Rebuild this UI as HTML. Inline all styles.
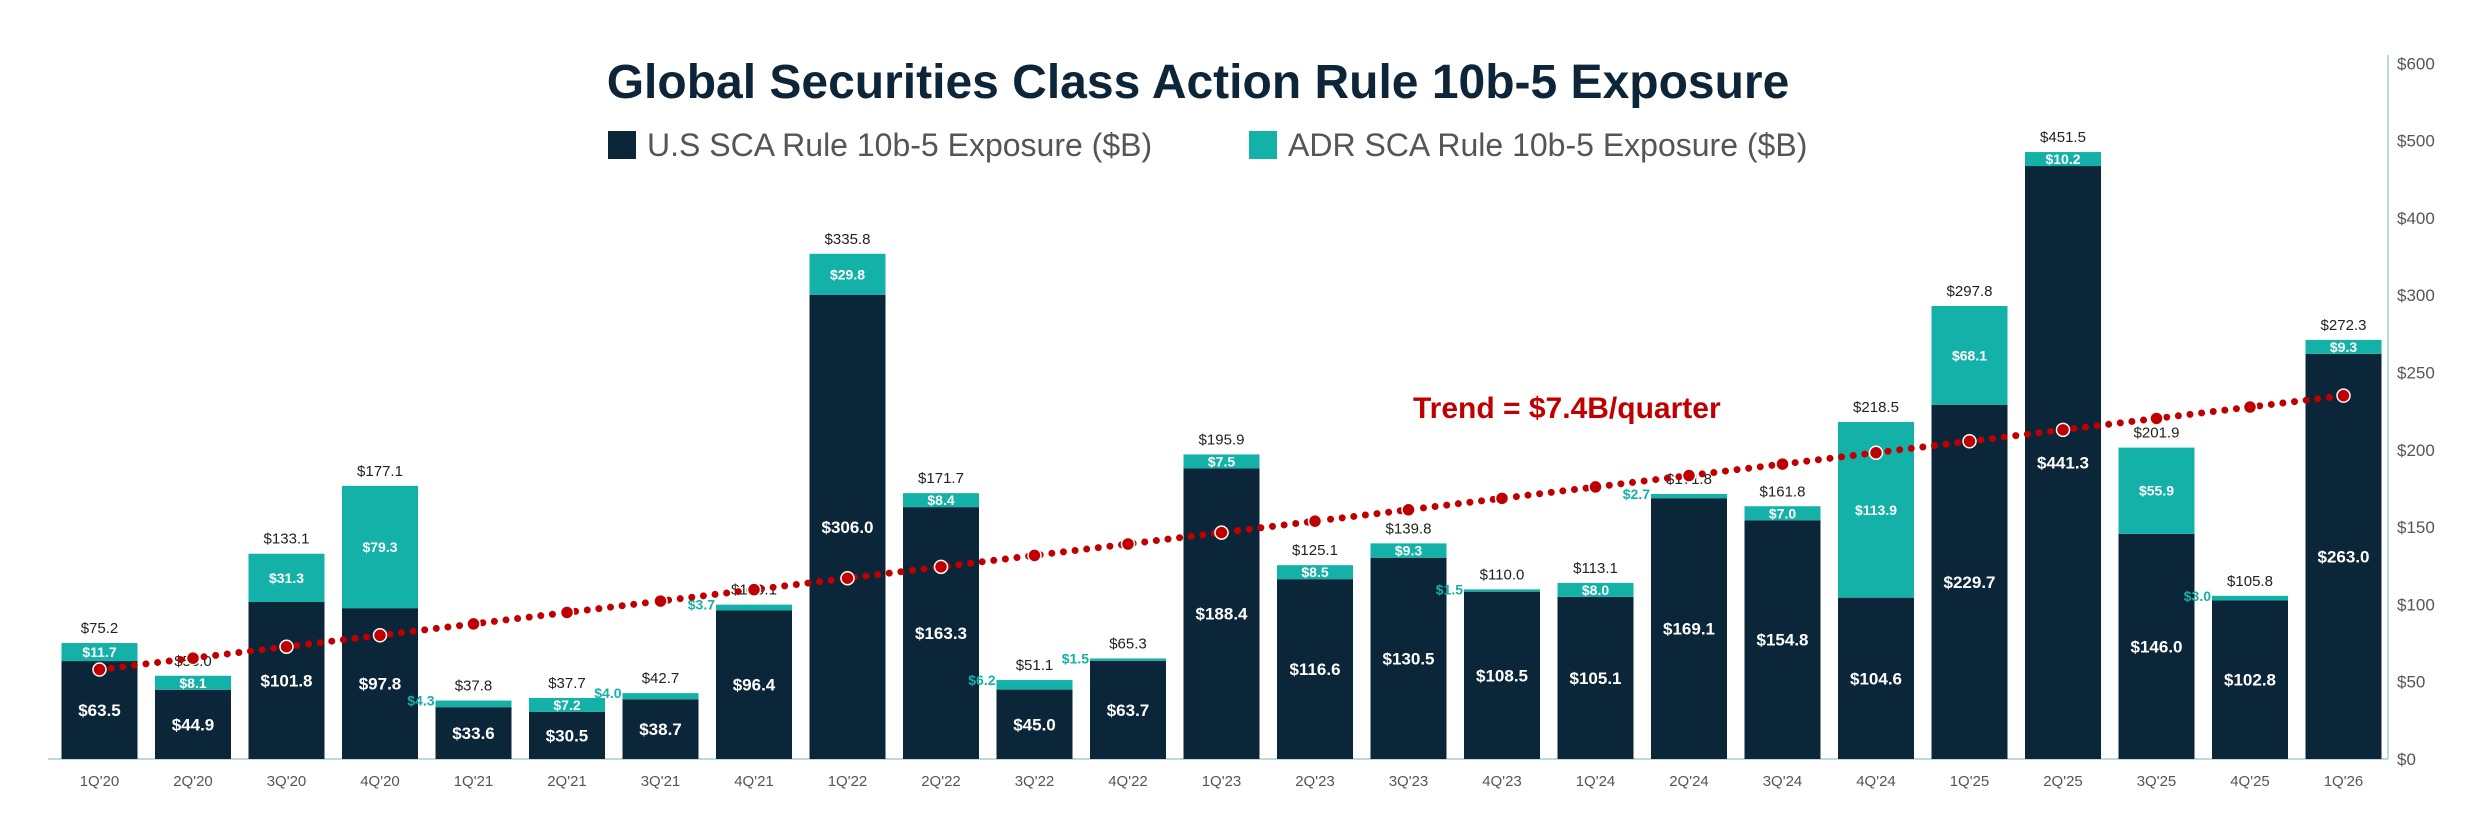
<!DOCTYPE html>
<html><head><meta charset="utf-8"><style>
body{margin:0;background:#fff;}
svg{display:block;font-family:"Liberation Sans",sans-serif;}
</style></head>
<body>
<svg id="chart" width="2475" height="822" viewBox="0 0 2475 822">
<text x="1198" y="98" text-anchor="middle" font-size="48" font-weight="bold" fill="#0d2538">Global Securities Class Action Rule 10b-5 Exposure</text>
<g>
<rect x="608" y="131" width="28" height="28" fill="#0b2539"/>
<text x="647" y="156" font-size="32" fill="#555">U.S SCA Rule 10b-5 Exposure ($B)</text>
<rect x="1249" y="131" width="28" height="28" fill="#14b1a9"/>
<text x="1288" y="156" font-size="32" fill="#555">ADR SCA Rule 10b-5 Exposure ($B)</text>
</g>
<g id="plot"></g>
<text x="1413" y="418" font-size="30" font-weight="bold" fill="#c00000">Trend = $7.4B/quarter</text>
</svg>
<script>
const quarters=["1Q'20","2Q'20","3Q'20","4Q'20","1Q'21","2Q'21","3Q'21","4Q'21","1Q'22","2Q'22","3Q'22","4Q'22","1Q'23","2Q'23","3Q'23","4Q'23","1Q'24","2Q'24","3Q'24","4Q'24","1Q'25","2Q'25","3Q'25","4Q'25","1Q'26"];
const usValues=[63.5,44.9,101.8,97.8,33.6,30.5,38.7,96.4,306.0,163.3,45.0,63.7,188.4,116.6,130.5,108.5,105.1,169.1,154.8,104.6,229.7,441.3,146.0,102.8,263.0];
const adrValues=[11.7,8.1,31.3,79.3,4.3,7.2,4.0,3.7,29.8,8.4,6.2,1.5,7.5,8.5,9.3,1.5,8.0,2.7,7.0,113.9,68.1,10.2,55.9,3.0,9.3];
const totals=["75.2","53.0","133.1","177.1","37.8","37.7","42.7","100.1","335.8","171.7","51.1","65.3","195.9","125.1","139.8","110.0","113.1","171.8","161.8","218.5","297.8","451.5","201.9","105.8","272.3"];
const tickValues=[0,50,100,150,200,250,300,400,500,600];
const trendStart=58;
const trendSlope=7.4;

const NS="http://www.w3.org/2000/svg";
const plot=document.getElementById('plot');
const base=759, step=77.3, x0=99.5, dx=93.5, bw=76;
const brkV=[0,260,340,450,600], brkP=[0,401,511,600,696];
function y(v){
  for(let i=0;i<brkV.length-1;i++){
    if(v<=brkV[i+1]||i===brkV.length-2){
      return base-(brkP[i]+(v-brkV[i])/(brkV[i+1]-brkV[i])*(brkP[i+1]-brkP[i]));
    }
  }
}
function yTick(i){return base-step*i;}
function x(i){return x0+i*dx;}
function mk(tag,attrs,parent){const e=document.createElementNS(NS,tag);for(const k in attrs)e.setAttribute(k,attrs[k]);(parent||plot).appendChild(e);return e;}
function fmt(v){return "$"+v.toFixed(1);}

const ax=mk('line',{x1:2388,y1:55,x2:2388,y2:base,stroke:'#a9cfcf','stroke-width':1.5});


const bl=mk('line',{x1:48,y1:base,x2:2388,y2:base,stroke:'#a9cfcf','stroke-width':1.5});


tickValues.forEach((t,i)=>{
  const tx=mk('text',{x:2397,y:yTick(i)+6,'font-size':17,fill:'#555'});
  tx.textContent="$"+t;
  
  
});

quarters.forEach((q,i)=>{
  const cx=x(i), us=usValues[i], adr=adrValues[i];
  const yUs=y(us);
  let yTot=y(us+adr);
  if(adr>=7 && yUs-yTot<14) yTot=yUs-14;
  const r1=mk('rect',{x:cx-bw/2,y:yUs,width:bw,height:base-yUs,fill:'#0b2539'});
  
  
  const r2=mk('rect',{x:cx-bw/2,y:yTot,width:bw,height:yUs-yTot,fill:'#14b1a9'});
  
  
  const l1=mk('text',{x:cx,y:(yUs+base)/2+6,'font-size':17,'font-weight':'bold',fill:'#fff','text-anchor':'middle'});
  l1.textContent=fmt(us);
  
  
  let l2;
  if(adr>=7){
    l2=mk('text',{x:cx,y:(yTot+yUs)/2+5,'font-size':14,'font-weight':'bold',fill:'#fff','text-anchor':'middle'});
  } else {
    l2=mk('text',{x:cx-bw/2-1,y:yTot+5,'font-size':14,'font-weight':'bold',fill:'#14b1a9','text-anchor':'end'});
  }
  l2.textContent=fmt(adr);
  
  
  const l3=mk('text',{x:cx,y:yTot-10,'font-size':15,fill:'#222','text-anchor':'middle'});
  l3.textContent="$"+totals[i];
  
  
  const l4=mk('text',{x:cx,y:base+27,'font-size':15,fill:'#555','text-anchor':'middle'});
  l4.textContent=q;
  
  
});

const n=quarters.length;
const tl=mk('line',{x1:x(0),y1:y(trendStart),x2:x(n-1),y2:y(trendStart+trendSlope*(n-1)),stroke:'#c00000','stroke-width':7,'stroke-linecap':'round','stroke-dasharray':'0 11.7'});


quarters.forEach((q,i)=>{
  const c=mk('circle',{cx:x(i),cy:y(trendStart+trendSlope*i),r:6.5,fill:'#c00000',stroke:'#fff','stroke-width':1.5});
  
  
});
</script>
</body></html>
